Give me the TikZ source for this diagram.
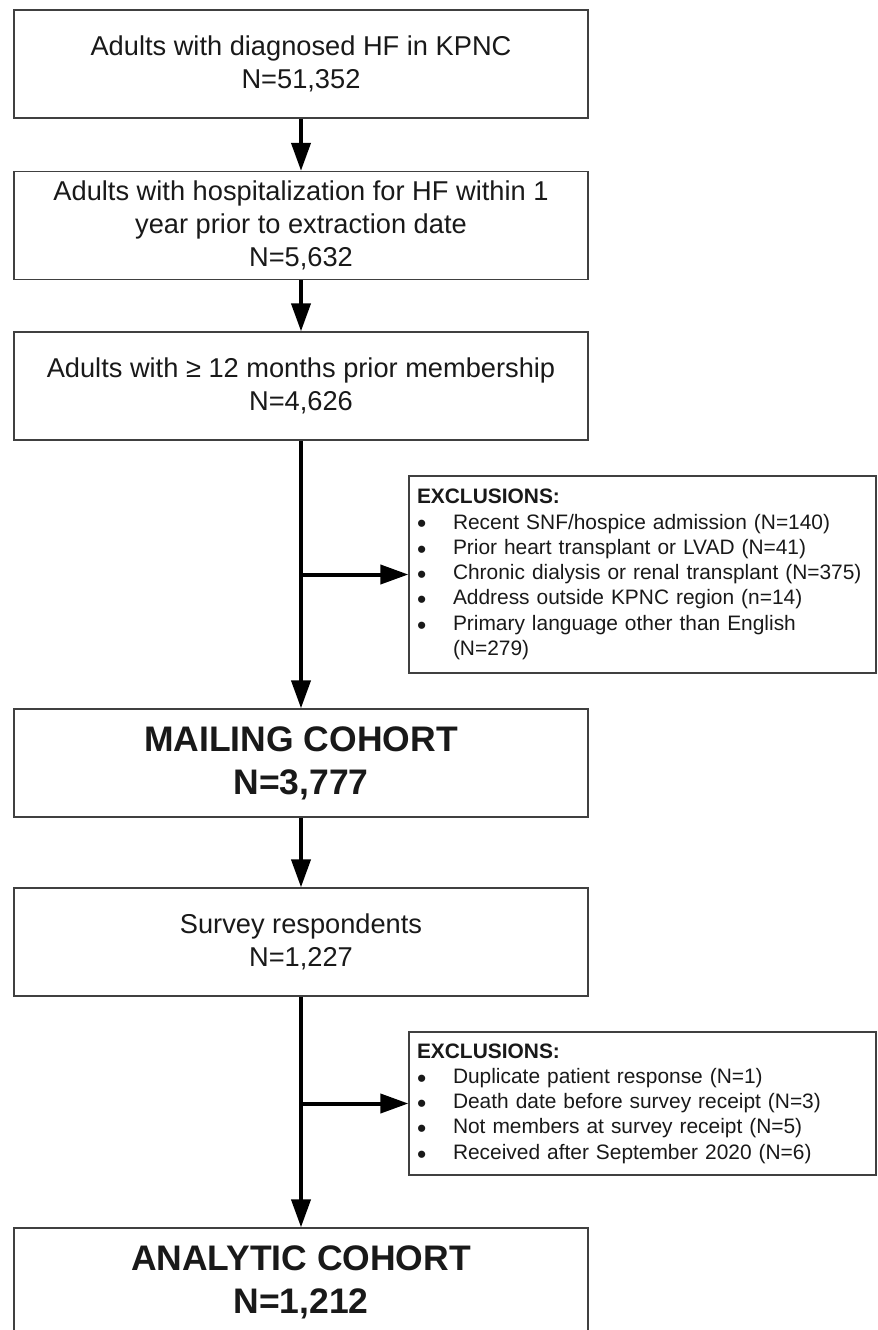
\documentclass[tikz,border=0pt]{standalone}
\usepackage{fontspec}
\setmainfont{Liberation Sans}
\usetikzlibrary{arrows.meta}
\tikzset{
  box/.style   ={draw=black!75,line width=.75pt,align=center,text=black!90,inner sep=0pt,
                 minimum width=11.48cm,minimum height=2.16cm,font=\fontsize{15.5}{18.7}\selectfont},
  cohort/.style={box,font=\fontsize{20.2}{24.5}\selectfont\bfseries},
  excl/.style  ={draw=black!75,line width=.75pt,align=left,text=black!90,inner ysep=0pt,
                 inner xsep=0.16cm,text width=9.02cm,font=\fontsize{11.9}{14.4}\selectfont},
  flow/.style  ={-{Triangle[length=0.56cm,width=0.38cm]},line width=0.08cm},
}
\newcommand{\bul}[1]{\makebox[0.72cm][l]{\raisebox{-0.35ex}{\fontsize{15}{14.4}\selectfont\textbullet}}#1}

\begin{document}
\begin{tikzpicture}
\path[use as bounding box,fill=white] (0,0) rectangle (17.56,-26.6);

% ===================== CAIXAS ======================================
\node[box] (hf)   at (6.02,-1.28)  {Adults with diagnosed HF in KPNC\\N=51,352};
\node[box] (hosp) at (6.02,-4.51)  {Adults with hospitalization for HF within 1\\year prior to extraction date\\N=5,632};
\node[box] (memb) at (6.02,-7.72)  {Adults with ≥ 12 months prior membership\\N=4,626};
\node[cohort] (mail) at (6.02,-15.26) {MAILING COHORT\\N=3,777};
\node[box] (resp) at (6.02,-18.84) {Survey respondents\\N=1,227};
\node[cohort] (anl)  at (6.02,-25.64) {ANALYTIC COHORT\\N=1,212};

% ===================== EXCLUSOES ===================================
\node[excl,minimum height=3.94cm] (exA) at (12.85,-11.49)
  {\textbf{EXCLUSIONS:}\\
   \bul{Recent SNF/hospice admission (N=140)}\\
   \bul{Prior heart transplant or LVAD (N=41)}\\
   \bul{Chronic dialysis or renal transplant (N=375)}\\
   \bul{Address outside KPNC region (n=14)}\\
   \bul{Primary language other than English}\\
   \hspace*{0.72cm}(N=279)};
\node[excl,minimum height=2.86cm] (exB) at (12.85,-22.07)
  {\textbf{EXCLUSIONS:}\\
   \bul{Duplicate patient response (N=1)}\\
   \bul{Death date before survey receipt (N=3)}\\
   \bul{Not members at survey receipt (N=5)}\\
   \bul{Received after September 2020 (N=6)}};

% ===================== SETAS =======================================
\draw[flow] (hf) -- (hosp);
\draw[flow] (hosp) -- (memb);
\draw[flow] (memb) -- (mail);
\draw[flow] (exA.west -| memb.south) -- (exA.west);
\draw[flow] (mail) -- (resp);
\draw[flow] (resp) -- (anl);
\draw[flow] (exB.west -| resp.south) -- (exB.west);

\end{tikzpicture}
\end{document}
